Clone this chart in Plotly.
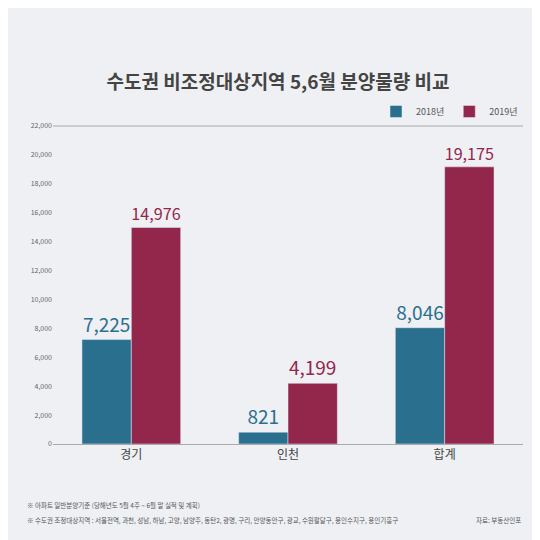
import plotly.graph_objects as go

categories = ['경기', '인천', '합계']
y2018 = [7225, 821, 8046]
y2019 = [14976, 4199, 19175]
tick_vals = list(range(0, 22001, 2000))
tick_text = [f'{v:,}' for v in tick_vals]

c18 = '#2b6f8f'
c19 = '#93264b'
font = 'Noto Sans CJK KR'

fig = go.Figure()
fig.add_bar(x=categories, y=y2018, name='2018년', marker_color=c18,
            text=[f'{v:,}' for v in y2018], textposition='outside',
            textfont=dict(color=c18, size=19, family=font), cliponaxis=False)
fig.add_bar(x=categories, y=y2019, name='2019년', marker_color=c19,
            text=[f'{v:,}' for v in y2019], textposition='outside',
            textfont=dict(color=c19, size=19, family=font), cliponaxis=False)

fig.update_layout(
    width=540, height=540,
    paper_bgcolor='#eef0f3', plot_bgcolor='#eef0f3',
    font=dict(family=font, color='#555'),
    margin=dict(l=45, r=25, t=118, b=104),
    barmode='group', bargap=0.37, bargroupgap=0,
    title=dict(text='<b>수도권 비조정대상지역 5,6월 분양물량 비교</b>', x=0.5, y=0.875,
               xanchor='center', font=dict(size=19, color='#444', family=font)),
    legend=dict(orientation='h', x=1, xanchor='right', y=1.0, yanchor='bottom',
                font=dict(size=9, color='#555'), itemwidth=30,
                bgcolor='rgba(0,0,0,0)'),
    showlegend=True,
)
fig.update_xaxes(showline=True, linecolor='#aaa', tickfont=dict(size=12, color='#444'),
                 ticks='')
fig.update_yaxes(range=[0, 22000], tickvals=tick_vals, ticktext=tick_text,
                 tickfont=dict(size=7, color='#666'), showgrid=False, zeroline=False)

fig.add_shape(type='line', xref='paper', yref='paper', x0=0, x1=1, y0=1, y1=1,
              line=dict(color='#aaa', width=1))

fig.add_annotation(text='※ 아파트 일반분양기준 (당해년도 5월 4주 ~ 6월 말 실적 및 계획)',
                   xref='paper', yref='paper', x=-0.06, y=-0.215, xanchor='left',
                   showarrow=False, font=dict(size=6.5, color='#555'))
fig.add_annotation(text='※ 수도권 조정대상지역 : 서울전역, 과천, 성남, 하남, 고양, 남양주, 동탄2, 광명, 구리, 안양동안구, 광교, 수원팔달구, 용인수지구, 용인기흥구',
                   xref='paper', yref='paper', x=-0.06, y=-0.26, xanchor='left',
                   showarrow=False, font=dict(size=6.5, color='#555'))
fig.add_annotation(text='자료: 부동산인포', xref='paper', yref='paper', x=1.0, y=-0.26,
                   xanchor='right', showarrow=False, font=dict(size=6.5, color='#555'))

fig.write_html('out.html')
